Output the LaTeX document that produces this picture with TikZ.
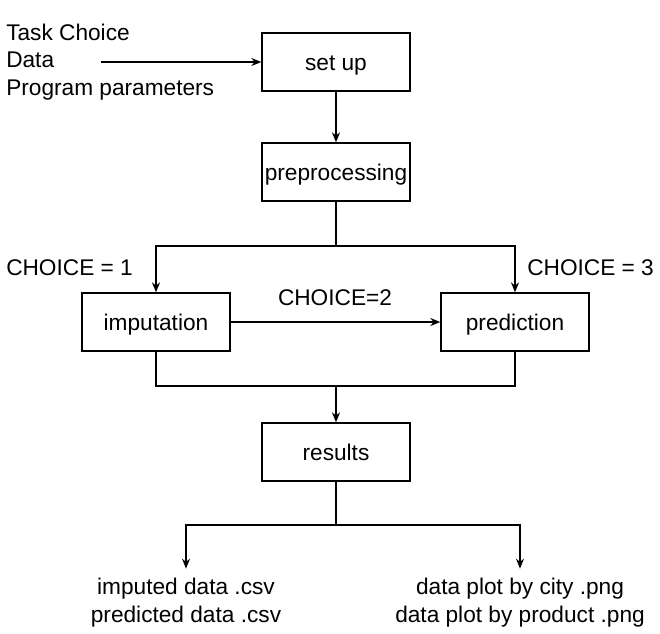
\documentclass[tikz,border=0pt]{standalone}
\usepackage{fontspec}
\setmainfont{Liberation Sans}
\usetikzlibrary{arrows.meta}
\begin{document}
\begin{tikzpicture}[x=0.75pt,y=-0.75pt,
  box/.style={draw,line width=1pt,minimum width=111pt,minimum height=43.5pt,inner sep=0pt,text depth=0pt,text height=12.5pt,font=\fontsize{17}{20}\selectfont},
  lbl/.style={inner sep=0pt,font=\fontsize{17}{20.8}\selectfont},
  conn/.style={line width=1pt},
  arr/.style={conn,-{Stealth[length=7.5pt,width=6pt]}}]
\useasboundingbox (0,0) rectangle (660,633);
\node[box] (setup) at (336,62) {set up};
\node[box] (pre) at (336,172) {preprocessing};
\node[box] (imp) at (156,322) {imputation};
\node[box] (pred) at (515,322) {prediction};
\node[box] (res) at (336,452) {results};
\node[lbl,anchor=west,align=left] (inputs) at (6,62) {Task Choice\\Data\\Program parameters};
\coordinate (instart) at (101,62);
\draw[arr] (instart) -- (setup.west);
\draw[arr] (setup.south) -- (pre.north);
\coordinate (split) at (336,246);
\draw[conn] (pre.south) -- (split);
\draw[arr] (split) -| (imp.north);
\draw[arr] (split) -| (pred.north);
\node[lbl,anchor=west] (c1) at (6,268) {CHOICE = 1};
\node[lbl,anchor=west] (c3) at (527,268) {CHOICE = 3};
\draw[arr] (imp.east) -- (pred.west);
\node[lbl] (c2) at (335,298) {CHOICE=2};
\coordinate (merge) at (336,386);
\draw[conn] (imp.south) |- (merge) -| (pred.south);
\draw[arr] (merge) -- (res.north);
\coordinate (fork) at (336,525);
\draw[conn] (res.south) -- (fork);
\node[lbl,align=center,anchor=north] (out1) at (186,578) {imputed data .csv\\predicted data .csv};
\node[lbl,align=center,anchor=north] (out2) at (520,578) {data plot by city .png\\data plot by product .png};
\draw[arr] (fork) -| ([yshift=7pt]out1.north);
\draw[arr] (fork) -| ([yshift=7pt]out2.north);
\end{tikzpicture}
\end{document}
